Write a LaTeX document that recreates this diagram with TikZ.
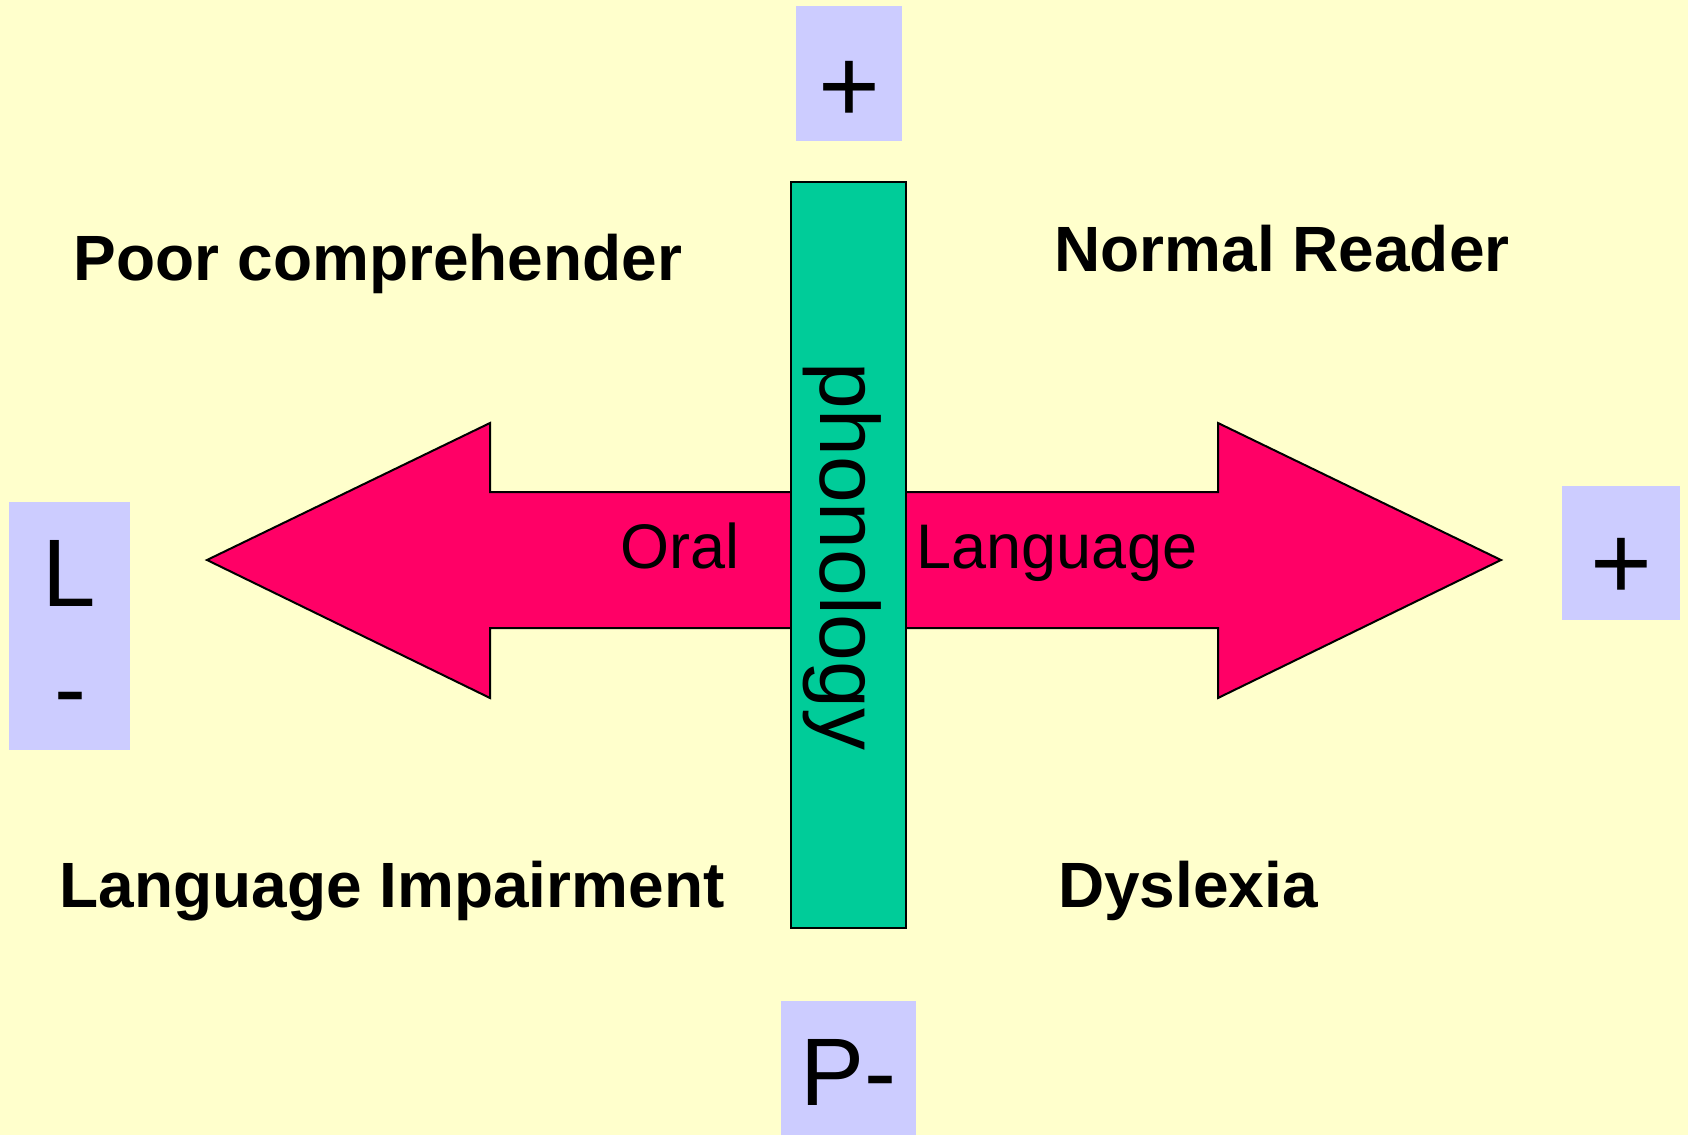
\documentclass[tikz,border=0pt]{standalone}
\usepackage{fontspec}
\setmainfont{Liberation Sans}
\definecolor{paper}{HTML}{FFFFCC}
\definecolor{lavender}{HTML}{CCCCFF}
\definecolor{phonogreen}{HTML}{00CC99}
\definecolor{arrowpink}{HTML}{FF0066}
\def\quadrants{{(378, 280)/poor/Poor comprehender}, {(1282, 271)/normal/Normal Reader}, {(392, 907)/impair/Language Impairment}, {(1188, 907)/dyslexia/Dyslexia}}
\def\axiswords{{(680, 568)/oral/Oral}, {(1057, 568)/lang/Language}}
\tikzstyle{sign box}=[fill=lavender, inner sep=0pt, anchor=base, font=\fontsize{48}{57.6}\selectfont]
\tikzstyle{plus box}=[sign box, font=\fontsize{53}{63}\selectfont]
\tikzstyle{sign text}=[inner sep=0pt, anchor=base, font=\fontsize{48}{57.6}\selectfont]
\tikzstyle{quadrant}=[inner sep=0pt, anchor=base, font=\bfseries\fontsize{32}{38}\selectfont]
\tikzstyle{axis word}=[inner sep=0pt, anchor=base, font=\fontsize{31.5}{38}\selectfont]
\tikzstyle{bar}=[draw, line width=1.2pt, fill=phonogreen, minimum width=57.5pt, minimum height=373pt, inner sep=0pt]
\tikzstyle{bar text}=[inner sep=0pt, anchor=base, rotate=-90, font=\fontsize{42}{50}\selectfont]
\tikzstyle{big arrow}=[draw, line width=1pt, fill=arrowpink, line join=miter]

\begin{document}
\begin{tikzpicture}[x=0.5pt, y=-0.5pt]
  \useasboundingbox (0, 0) rectangle (1688, 1135);
  \fill[paper] (0, 0) rectangle (1688, 1135);

  % The double arrow along the oral language axis
  \path[big arrow] (207, 560) -- (490, 423) -- (490, 492) -- (1218, 492) -- (1218, 423)
    -- (1501, 560) -- (1218, 698) -- (1218, 628) -- (490, 628) -- (490, 698) -- cycle;

  \foreach \pos/\name/\lbl in \axiswords
    \node[axis word] (\name) at \pos {\lbl};

  % Phonology bar on top
  \node[bar] (phonbar) at (848.5, 555) {};
  \node[bar text] (phon) at (820, 556.5) {phonology};

  % Signs at the ends of the axes
  \node[plus box, minimum width=53pt, text height=58pt, text depth=9.5pt] (plusTop) at (849, 122) {+};
  \node[plus box, minimum width=59pt, text height=56.5pt, text depth=10.5pt] (plusRight) at (1621, 599) {+};
  \node[sign box, minimum width=60.5pt, text height=52pt, text depth=72pt] (lBox) at (69.5, 606) {L};
  \node[sign text] (lMinus) at (70, 721) {-};
  \node[sign box, minimum width=67.5pt, text height=52pt, text depth=15pt] (pBox) at (848.5, 1105) {P-};

  % Quadrant labels
  \foreach \pos/\name/\lbl in \quadrants
    \node[quadrant] (\name) at \pos {\lbl};
\end{tikzpicture}
\end{document}
